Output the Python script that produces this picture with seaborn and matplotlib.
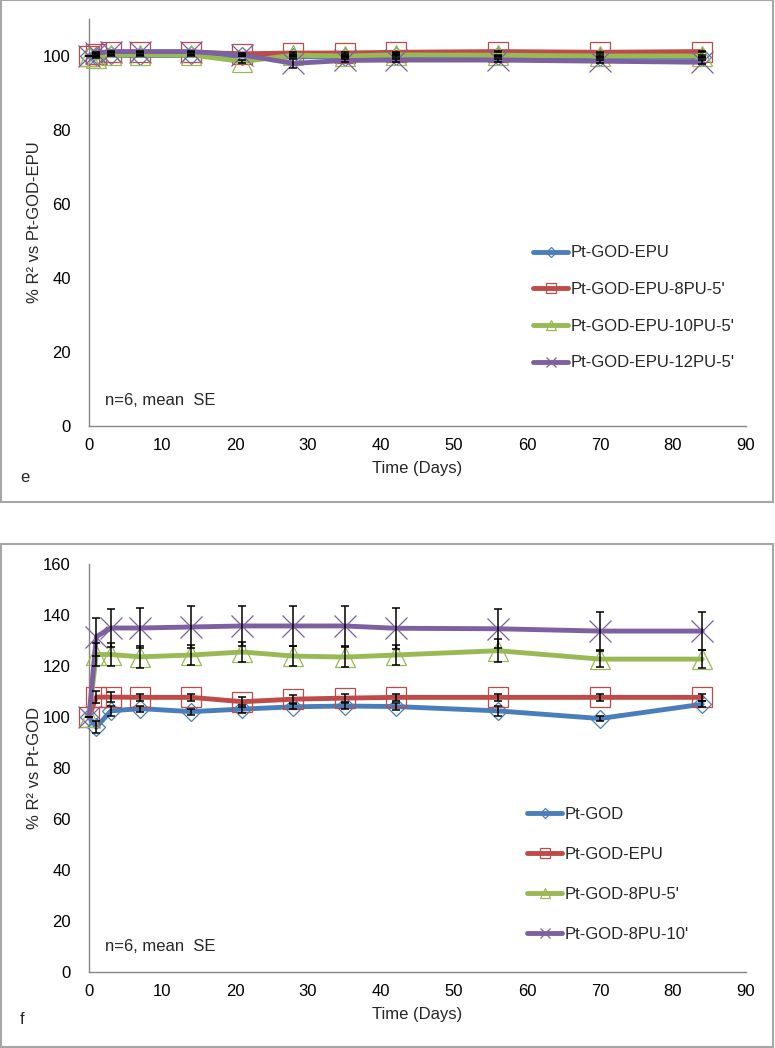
import numpy as np
import pandas as pd
import matplotlib.pyplot as plt
import seaborn as sns

sns.set_style('white')
plt.rcParams['font.family'] = ['Liberation Sans', 'DejaVu Sans']

days = [0, 1, 3, 7, 14, 21, 28, 35, 42, 56, 70, 84]

# panel e: % R2 vs Pt-GOD-EPU
labels_e = ['Pt-GOD-EPU', "Pt-GOD-EPU-8PU-5'", "Pt-GOD-EPU-10PU-5'", "Pt-GOD-EPU-12PU-5'"]
epu_e = [100, 100.0, 100.2, 100.1, 100.2, 100.0, 99.8, 99.8, 100.0, 99.9, 99.7, 99.6]
pu8_e = [100, 100.6, 101.0, 101.0, 101.0, 100.6, 100.8, 100.8, 101.0, 101.2, 101.0, 101.2]
pu10_e = [100, 99.5, 100.3, 100.3, 100.3, 98.5, 100.2, 100.0, 100.3, 100.2, 100.0, 100.0]
pu12_e = [100, 100.8, 101.2, 101.2, 101.2, 100.3, 98.0, 98.8, 98.9, 98.9, 98.6, 98.3]
se_epu_e = [0, 0.1, 0.1, 0.1, 0.1, 0.1, 0.15, 0.15, 0.15, 0.15, 0.15, 0.2]
se_pu8_e = [0, 0.1, 0.1, 0.1, 0.1, 0.15, 0.15, 0.15, 0.15, 0.15, 0.15, 0.15]
se_pu10_e = [0, 0.15, 0.1, 0.1, 0.1, 0.3, 0.15, 0.15, 0.15, 0.15, 0.15, 0.15]
se_pu12_e = [0, 0.15, 0.1, 0.1, 0.1, 0.3, 1.3, 0.5, 0.4, 0.4, 0.4, 0.5]

# panel f: % R2 vs Pt-GOD
labels_f = ['Pt-GOD', 'Pt-GOD-EPU', "Pt-GOD-8PU-5'", "Pt-GOD-8PU-10'"]
god_f = [100, 96.0, 102.4, 103.3, 102.1, 103.1, 104.0, 104.3, 104.1, 102.4, 99.4, 105.0]
epu_f = [100, 107.8, 107.8, 107.7, 107.7, 106.0, 107.0, 107.4, 107.7, 107.7, 107.7, 107.7]
pu5_f = [100, 124.5, 124.5, 123.6, 124.3, 125.5, 123.9, 123.5, 124.3, 126.0, 122.7, 122.7]
pu10_f = [100, 131.5, 134.9, 134.9, 135.3, 135.7, 135.7, 135.7, 134.8, 134.6, 133.7, 133.7]
se_god_f = [0, 2.3, 2.0, 1.2, 1.2, 1.5, 1.0, 1.0, 1.5, 2.0, 0.8, 1.2]
se_epu_f = [0, 2.5, 2.0, 1.5, 1.5, 2.0, 1.5, 1.5, 1.5, 1.5, 1.5, 1.5]
se_pu5_f = [0, 4.5, 4.5, 4.2, 4.0, 4.0, 4.0, 4.0, 4.0, 4.4, 3.2, 3.5]
se_pu10_f = [0, 7.5, 7.5, 8.0, 8.3, 8.0, 8.0, 8.0, 8.0, 7.7, 7.5, 7.5]

colors = ['#4A7EBB', '#BE4B48', '#98B954', '#7D60A0']
markers = ['D', 's', '^', 'x']
msizes = [9, 15, 14, 16]
leg_msizes = [5, 7, 7, 7]

W, H = 775, 1048
fig = plt.figure(figsize=(W / 100, H / 100), dpi=100)

# panel frames
for y0, y1 in [(0, 502), (544, 1047)]:
    fig.add_artist(plt.Rectangle((1 / W, (H - y1) / H), 772 / W, (y1 - y0) / H,
                                 transform=fig.transFigure, fill=False,
                                 edgecolor='#a6a6a6', lw=1.5))

ax_e = fig.add_axes([89 / W, (H - 426) / H, 657 / W, 407 / H])
ax_f = fig.add_axes([89 / W, (H - 972) / H, 657 / W, 408 / H])


def draw_panel(ax, series, errs, labels, ymax, ylabel, leg_xy, leg_space):
    for i, (vals, lab) in enumerate(zip(series, labels)):
        df = pd.DataFrame({'day': days, 'val': vals})
        sns.lineplot(data=df, x='day', y='val', ax=ax, color=colors[i], lw=3.5,
                     marker=markers[i], markersize=msizes[i],
                     markerfacecolor='none', markeredgecolor=colors[i],
                     markeredgewidth=0.9, errorbar=None, label=lab,
                     clip_on=False, zorder=3 + i)
    for vals, se in zip(series, errs):
        ax.errorbar(days, vals, yerr=se, fmt='none', ecolor='black',
                    elinewidth=1.1, capsize=3, capthick=1.1, zorder=8,
                    clip_on=False)
    ax.set_xlim(0, 90)
    ax.set_ylim(0, ymax)
    ax.set_xticks(range(0, 91, 10))
    ax.set_yticks(range(0, ymax + 1, 20) if ymax % 20 == 0 else range(0, ymax, 20))
    for s in ['top', 'right']:
        ax.spines[s].set_visible(False)
    for s in ['left', 'bottom']:
        ax.spines[s].set_color('#868686')
        ax.spines[s].set_linewidth(1)
    ax.tick_params(axis='both', direction='out', length=5, width=1,
                   color='#868686', labelcolor='black', labelsize=12)
    ax.tick_params(axis='y', pad=8)
    ax.tick_params(axis='x', pad=4)
    ax.set_xlabel('Time (Days)', fontsize=12)
    ax.xaxis.set_label_coords(0.5, -0.086)
    ax.set_ylabel(ylabel, fontsize=12)
    ax.yaxis.set_label_coords(-0.072, 0.5)
    ax.text(0.024, 0.062, 'n=6, mean  SE', transform=ax.transAxes,
            fontsize=12, va='center', ha='left')
    leg = ax.legend(loc='center left', bbox_to_anchor=leg_xy, frameon=False,
                    fontsize=12, handlelength=2.1, handletextpad=0.15,
                    labelspacing=leg_space, borderpad=0, borderaxespad=0)
    for h, ms in zip(leg.legend_handles, leg_msizes):
        h.set_markersize(ms)


draw_panel(ax_e, [epu_e, pu8_e, pu10_e, pu12_e],
           [se_epu_e, se_pu8_e, se_pu10_e, se_pu12_e],
           labels_e, 110, '% R\u00b2 vs Pt-GOD-EPU', (0.676, 0.29), 1.3)
draw_panel(ax_f, [god_f, epu_f, pu5_f, pu10_f],
           [se_god_f, se_epu_f, se_pu5_f, se_pu10_f],
           labels_f, 160, '% R\u00b2 vs Pt-GOD', (0.667, 0.24), 1.5)

fig.text(20 / W, (H - 478) / H, 'e', fontsize=12, ha='left', va='center')
fig.text(20 / W, (H - 1020) / H, 'f', fontsize=12, ha='left', va='center')

fig.savefig('out.png', dpi=100)
